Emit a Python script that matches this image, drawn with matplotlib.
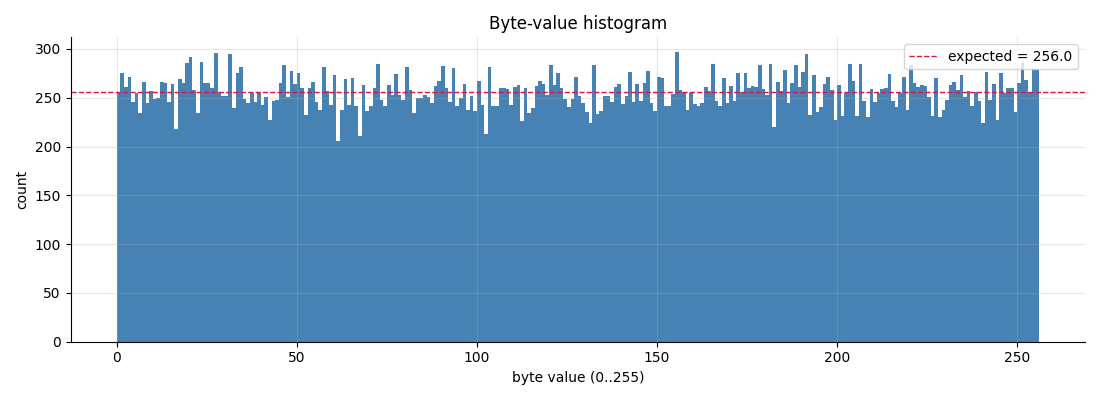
import numpy as np
import matplotlib.pyplot as plt

# counts per byte value
counts = [
    256, 275, 261, 271, 246, 255, 234, 266, 245, 257, 249, 250, 266, 265, 246, 264,
    218, 269, 265, 286, 292, 258, 234, 287, 265, 265, 260, 296, 256, 252, 252, 295,
    239, 275, 281, 249, 245, 255, 246, 255, 243, 251, 227, 247, 248, 265, 284, 251,
    277, 264, 275, 260, 232, 260, 266, 246, 237, 281, 257, 243, 273, 206, 237, 269,
    243, 270, 242, 211, 263, 236, 241, 260, 285, 248, 241, 263, 253, 274, 253, 248,
    281, 258, 234, 250, 250, 253, 251, 245, 262, 267, 282, 260, 246, 280, 241, 250,
    264, 237, 252, 236, 267, 243, 213, 281, 242, 242, 260, 260, 259, 243, 261, 263,
    226, 260, 234, 239, 262, 267, 264, 253, 284, 263, 275, 260, 249, 240, 249, 271,
    252, 245, 235, 224, 283, 233, 236, 252, 252, 246, 261, 264, 244, 252, 276, 246,
    264, 247, 265, 277, 245, 236, 271, 270, 241, 242, 254, 297, 258, 256, 237, 255,
    244, 241, 245, 261, 257, 285, 247, 242, 270, 245, 262, 247, 275, 256, 275, 260,
    262, 261, 284, 259, 253, 285, 220, 266, 257, 278, 245, 265, 284, 261, 276, 295,
    232, 273, 235, 240, 264, 271, 258, 227, 263, 231, 255, 285, 267, 231, 285, 247,
    230, 259, 246, 255, 259, 260, 274, 247, 240, 255, 271, 237, 283, 265, 261, 263,
    262, 251, 231, 270, 230, 237, 248, 263, 266, 258, 273, 251, 257, 242, 256, 247,
    224, 276, 248, 264, 227, 275, 255, 260, 260, 235, 265, 286, 268, 256, 279, 279,
]
byte_values = np.arange(256)
expected = 256.0

fig, ax = plt.subplots(figsize=(11, 4), dpi=100)
ax.bar(byte_values, counts, width=1.0, align="edge", color="steelblue")
ax.axhline(expected, color="crimson", linestyle="--", linewidth=1,
           label=f"expected = {expected}")

ax.set_title("Byte-value histogram")
ax.set_xlabel("byte value (0..255)")
ax.set_ylabel("count")
ax.legend(loc="upper right")
ax.grid(True, alpha=0.3)
ax.spines["top"].set_visible(False)
ax.spines["right"].set_visible(False)

plt.tight_layout()
plt.savefig("out.png", dpi=100)
